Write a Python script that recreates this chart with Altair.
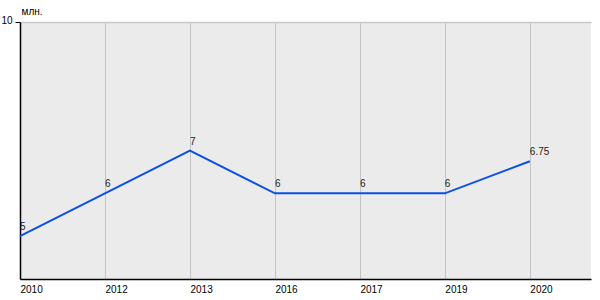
import json
import altair as alt
import pandas as pd

years = ["2010", "2012", "2013", "2016", "2017", "2019", "2020"]
values = [5, 6, 7, 6, 6, 6, 6.75]
labels = ["5", "6", "7", "6", "6", "6", "6.75"]

df = pd.DataFrame({
    "idx": list(range(len(years))),
    "year": years,
    "value": values,
    "label": labels,
})

label_expr = json.dumps(years) + "[datum.value]"

x = alt.X(
    "idx:Q",
    scale=alt.Scale(domain=[0, 6.72], nice=False, zero=False),
    axis=alt.Axis(
        values=list(range(len(years))),
        labelExpr=label_expr,
        title=None,
        grid=True,
        gridColor="#c4c4c4",
        gridWidth=1,
        ticks=False,
        domainColor="#000000",
        domainWidth=1.5,
        labelAlign="left",
        labelPadding=5,
        labelFont="Liberation Sans",
        labelFontSize=10,
        labelColor="#000000",
        labelFlush=False,
    ),
)

y = alt.Y(
    "value:Q",
    scale=alt.Scale(domain=[4, 10], nice=False, zero=False),
    axis=alt.Axis(
        values=[10],
        title="млн.",
        titleAngle=0,
        titleAlign="left",
        titleBaseline="bottom",
        titleX=1,
        titleY=-6,
        titleFont="Liberation Sans",
        titleFontSize=10,
        titleFontWeight="normal",
        titleColor="#000000",
        grid=True,
        gridColor="#c8c8c8",
        gridWidth=1.5,
        tickSize=5,
        tickColor="#000000",
        domainColor="#000000",
        domainWidth=1.5,
        labelFont="Liberation Sans",
        labelFontSize=10,
        labelColor="#000000",
        labelPadding=3,
        labelBaseline="alphabetic",
        labelOffset=1,
        labelFlush=False,
        labelBound=False,
    ),
)

line = alt.Chart(df).mark_line(color="#0a50e6", strokeWidth=2).encode(x=x, y=y)

text = alt.Chart(df).mark_text(
    align="left", baseline="bottom", dx=0, dy=-4,
    font="Liberation Sans", fontSize=10, color="#222222",
).encode(
    x=alt.X("idx:Q", scale=alt.Scale(domain=[0, 6.72], nice=False, zero=False)),
    y=alt.Y("value:Q", scale=alt.Scale(domain=[4, 10], nice=False, zero=False)),
    text="label:N",
)

chart = (
    alt.layer(line, text)
    .properties(
        width=571,
        height=257,
        autosize=alt.AutoSizeParams(type="none"),
        padding={"left": 20, "top": 22, "right": 9, "bottom": 21},
        background="#ffffff",
    )
    .configure_view(fill="#ebebeb", strokeWidth=0)
)

chart.save("out.html", embed_options={"renderer": "svg", "actions": False})
